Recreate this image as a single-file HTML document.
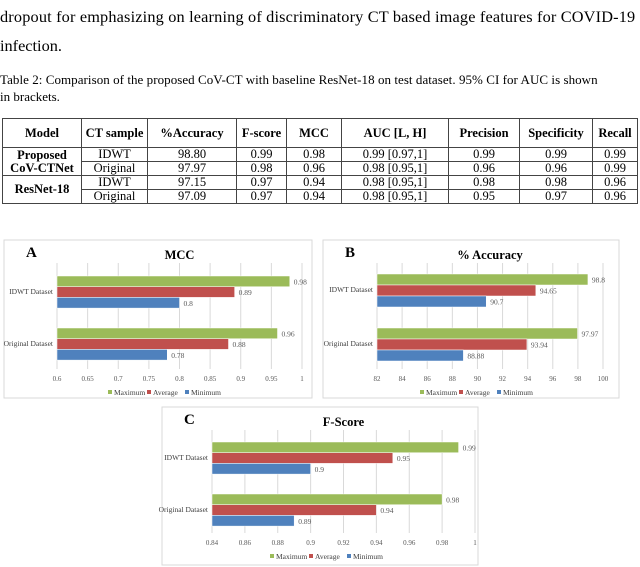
<!DOCTYPE html>
<html><head><meta charset="utf-8"><style>
body{margin:0;width:640px;height:567px;background:#fff;position:relative;overflow:hidden;font-family:"Liberation Serif",serif;color:#000}
.t{position:absolute;white-space:nowrap}
table{position:absolute;left:2px;top:118px;border-collapse:collapse;font-size:12.5px;table-layout:fixed}
td,th{border:1px solid #444;text-align:center;padding:0;line-height:13px}
th{height:28px}
td{height:13px}
</style></head><body>
<div class="t" style="left:0;top:7px;font-size:16.3px;letter-spacing:0.17px">dropout for emphasizing on learning of discriminatory CT based image features for COVID-19</div>
<div class="t" style="left:0;top:36px;font-size:16.3px">infection.</div>
<div class="t" style="left:0;top:72px;font-size:13px;letter-spacing:0.05px">Table 2: Comparison of the proposed CoV-CT with baseline ResNet-18 on test dataset. 95% CI for AUC is shown</div>
<div class="t" style="left:0;top:89px;font-size:13px">in brackets.</div>
<table>
<colgroup><col style="width:79px"><col style="width:66px"><col style="width:89px"><col style="width:50px"><col style="width:55px"><col style="width:107px"><col style="width:71px"><col style="width:73px"><col style="width:45px"></colgroup>
<tr><th>Model</th><th>CT sample</th><th>%Accuracy</th><th>F-score</th><th>MCC</th><th>AUC [L, H]</th><th>Precision</th><th>Specificity</th><th>Recall</th></tr>
<tr><th rowspan="2" style="height:26px">Proposed<br>CoV-CTNet</th><td>IDWT</td><td>98.80</td><td>0.99</td><td>0.98</td><td>0.99 [0.97,1]</td><td>0.99</td><td>0.99</td><td>0.99</td></tr>
<tr><td>Original</td><td>97.97</td><td>0.98</td><td>0.96</td><td>0.98 [0.95,1]</td><td>0.96</td><td>0.96</td><td>0.99</td></tr>
<tr><th rowspan="2" style="height:26px">ResNet-18</th><td>IDWT</td><td>97.15</td><td>0.97</td><td>0.94</td><td>0.98 [0.95,1]</td><td>0.98</td><td>0.98</td><td>0.96</td></tr>
<tr><td>Original</td><td>97.09</td><td>0.97</td><td>0.94</td><td>0.98 [0.95,1]</td><td>0.95</td><td>0.97</td><td>0.96</td></tr>
</table>
<svg id="charts" width="640" height="567" style="position:absolute;left:0;top:0"></svg>
<script>
const categories = ["IDWT Dataset","Original Dataset"];
const seriesNames = ["Maximum","Average","Minimum"];
const mccMax = [0.98,0.96], mccAvg = [0.89,0.88], mccMin = [0.8,0.78];
const mccTicks = ["0.6","0.65","0.7","0.75","0.8","0.85","0.9","0.95","1"];
const accMax = [98.8,97.97], accAvg = [94.65,93.94], accMin = [90.7,88.88];
const accTicks = ["82","84","86","88","90","92","94","96","98","100"];
const fMax = [0.99,0.98], fAvg = [0.95,0.94], fMin = [0.9,0.89];
const fTicks = ["0.84","0.86","0.88","0.9","0.92","0.94","0.96","0.98","1"];

const colors=["#9bbb59","#c0504d","#4f81bd"];
const NS="http://www.w3.org/2000/svg";
const svg=document.getElementById('charts');
function mk(tag,attrs,parent,text){const e=document.createElementNS(NS,tag);for(const k in attrs)e.setAttribute(k,attrs[k]);if(text!==undefined)e.textContent=text;(parent||svg).appendChild(e);return e;}
function chart(o){
  const g=mk('g',{});
  
  
  const box=mk('rect',{x:o.bx,y:o.by,width:o.bw,height:o.bh,fill:'#fff',stroke:'#d9d9d9'},g);
  
  
  const lt=mk('text',{x:o.bx+22,y:o.by+17,'font-size':15,'font-weight':'bold','font-family':'Liberation Serif'},g,o.letter);
  
  
  const tt=mk('text',{x:(o.x0+o.x1)/2,y:o.by+19,'font-size':12.5,'font-weight':'bold','text-anchor':'middle','font-family':'Liberation Serif'},g,o.title);
  
  
  const lo=parseFloat(o.ticks[0]),hi=parseFloat(o.ticks[o.ticks.length-1]);
  const sx=v=>o.x0+(v-lo)/(hi-lo)*(o.x1-o.x0);
  o.ticks.forEach(t=>{const x=sx(parseFloat(t));
    const gl=mk('line',{x1:x,x2:x,y1:o.pt,y2:o.pb,stroke:'#d9d9d9','stroke-width':1},g);
    
    
    const tl=mk('text',{x:x,y:o.pb+12,'font-size':7,'text-anchor':'middle',fill:'#595959','font-family':'Liberation Serif'},g,t);
    
    
  });
  const series=[o.max,o.avg,o.min];
  categories.forEach((c,ci)=>{
    const y0=o.gy[ci];
    const cl=mk('text',{x:o.x0-4,y:y0+18,'font-size':7.5,'text-anchor':'end',fill:'#404040','font-family':'Liberation Serif'},g,c);
    
    
    series.forEach((s,si)=>{
      const y=y0+si*o.bhh;
      const r=mk('rect',{x:o.x0,y:y,width:sx(s[ci])-o.x0,height:o.bhh,fill:colors[si],stroke:'#fff','stroke-width':0.5},g);
      
      
      const vl=mk('text',{x:sx(s[ci])+4,y:y+o.bhh/2+3,'font-size':7.5,fill:'#595959','font-family':'Liberation Serif'},g,String(s[ci]));
      
      
    });
  });
  let lx=o.lx;
  seriesNames.forEach((n,i)=>{
    const sw=mk('rect',{x:lx,y:o.ly-5,width:4,height:4,fill:colors[i]},g);
    
    
    const lt2=mk('text',{x:lx+6,y:o.ly,'font-size':7.5,fill:'#404040','font-family':'Liberation Serif'},g,n);
    
    
    lx+=[39,38,0][i];
  });
}
chart({name:'mcc-chart',letter:'A',title:'MCC',bx:4,by:240,bw:308,bh:158,x0:57,x1:302,pt:263,pb:369,gy:[276,328],bhh:10.7,ticks:mccTicks,max:mccMax,avg:mccAvg,min:mccMin,lx:108,ly:395});
chart({name:'accuracy-chart',letter:'B',title:'% Accuracy',bx:323,by:240,bw:296,bh:158,x0:377,x1:603,pt:263,pb:369,gy:[274,328],bhh:11,ticks:accTicks,max:accMax,avg:accAvg,min:accMin,lx:420,ly:395});
chart({name:'fscore-chart',letter:'C',title:'F-Score',bx:162,by:407,bw:316,bh:158,x0:212,x1:475,pt:430,pb:533,gy:[442,494],bhh:10.7,ticks:fTicks,max:fMax,avg:fAvg,min:fMin,lx:270,ly:559});
</script>
</body></html>
